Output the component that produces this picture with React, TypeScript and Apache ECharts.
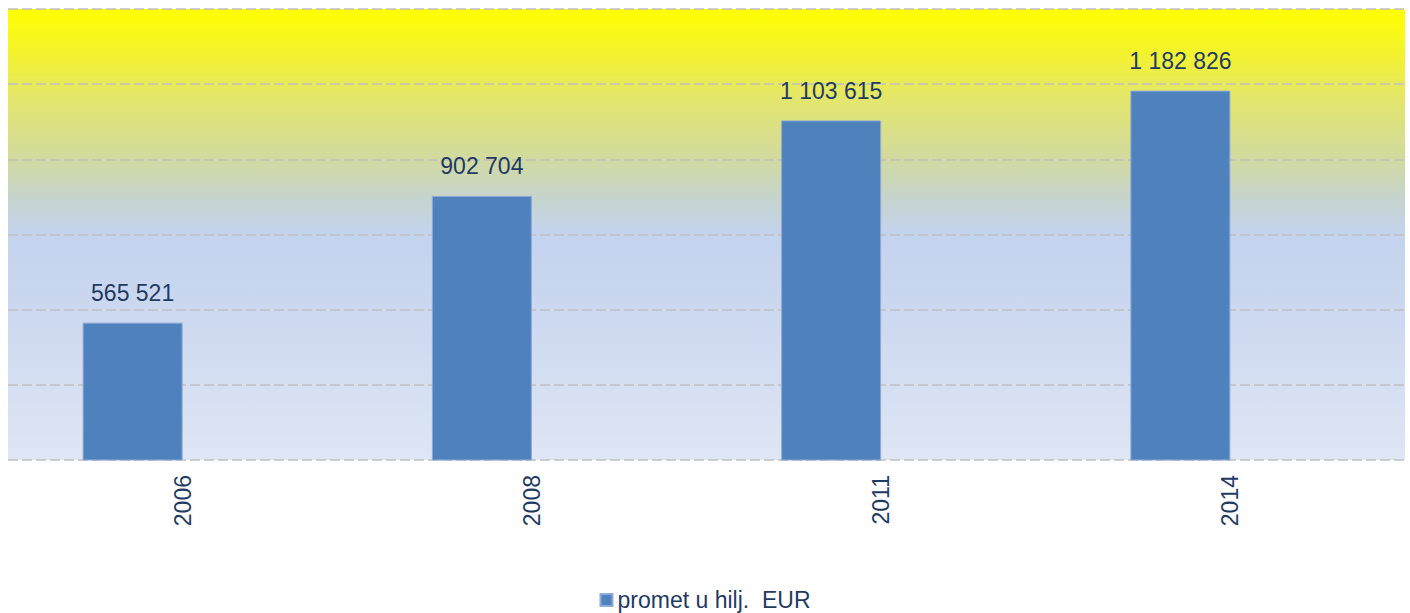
import React, { useEffect, useRef } from "react";
import * as echarts from "echarts";

const categories = ["2006", "2008", "2011", "2014"];
const seriesName = "promet u hilj.\u00a0 EUR";
const values = [565521, 902704, 1103615, 1182826];
const emptyValues: (number | null)[] = [];
const yMin = 200000;
const yMax = 1400000;
const yInterval = 200000;

const textColor = "#1F3B63";
const font = "Liberation Sans, Arial, sans-serif";

function fmt(v: number): string {
  return String(Math.round(v)).replace(/\B(?=(\d{3})+(?!\d))/g, " ");
}

export default function App() {
  const ref = useRef<HTMLDivElement>(null);
  useEffect(() => {
    if (!ref.current) return;
    const chart = echarts.init(ref.current, null, { renderer: "svg" });
    chart.setOption({
      animation: false,
      grid: {
        left: 8,
        right: 5,
        top: 9,
        bottom: 153,
        show: true,
        borderWidth: 0,
        backgroundColor: {
          type: "linear",
          x: 0,
          y: 0,
          x2: 0,
          y2: 1,
          colorStops: [
            { offset: 0, color: "#ffff00" },
            { offset: 0.1, color: "#f3f22f" },
            { offset: 0.2, color: "#e3e66c" },
            { offset: 0.33, color: "#d2da9f" },
            { offset: 0.42, color: "#c6d4ce" },
            { offset: 0.5, color: "#c4d3ee" },
            { offset: 0.62, color: "#c9d6ef" },
            { offset: 1, color: "#dfe6f4" },
          ],
        },
      },
      legend: {
        data: [seriesName],
        top: 583,
        left: "center",
        icon: "rect",
        itemWidth: 12,
        itemHeight: 12,
        itemGap: 10,
        textStyle: {
          color: textColor,
          fontSize: 23,
          lineHeight: 24,
          fontFamily: font,
        },
      },
      xAxis: {
        type: "category",
        data: categories,
        axisLine: { show: false },
        axisTick: { show: false },
        axisLabel: {
          rotate: 90,
          margin: 15,
          color: textColor,
          fontSize: 23,
          fontFamily: font,
        },
      },
      yAxis: {
        type: "value",
        min: yMin,
        max: yMax,
        interval: yInterval,
        axisLabel: { show: false },
        axisLine: { show: false },
        axisTick: { show: false },
        splitLine: {
          show: true,
          lineStyle: { color: "#c0c0c0", width: 1.5, type: [10, 4] },
        },
      },
      series: [
        {
          name: seriesName,
          type: "bar",
          data: values,
          barWidth: 100,
          barGap: "0%",
          itemStyle: { color: "#4f81bd", borderColor: "#8eaad6", borderWidth: 1 },
          label: {
            show: true,
            position: "top",
            distance: 18,
            color: textColor,
            fontSize: 23,
            fontFamily: font,
            formatter: (p: any) => fmt(p.value),
          },
        },
        {
          name: "pad",
          type: "bar",
          data: emptyValues,
          barWidth: 100,
          barGap: "0%",
        },
      ],
    });
    return () => chart.dispose();
  }, []);
  return (
    <div
      ref={ref}
      style={{ position: "fixed", left: 0, top: 0, width: 1410, height: 613, background: "#ffffff" }}
    />
  );
}
